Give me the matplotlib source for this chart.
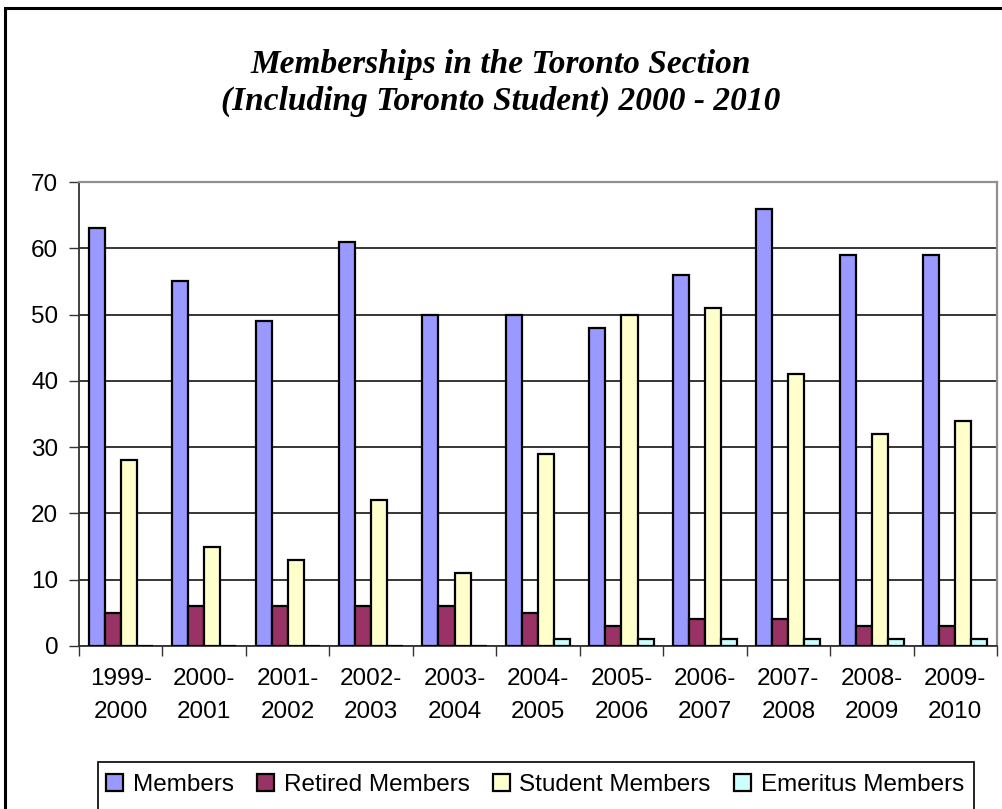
import numpy as np
import matplotlib
matplotlib.use('Agg')
import matplotlib.pyplot as plt
from matplotlib.patches import Rectangle

seasons = ['1999-\n2000', '2000-\n2001', '2001-\n2002', '2002-\n2003', '2003-\n2004',
           '2004-\n2005', '2005-\n2006', '2006-\n2007', '2007-\n2008', '2008-\n2009',
           '2009-\n2010']
members = [63, 55, 49, 61, 50, 50, 48, 56, 66, 59, 59]
retired = [5, 6, 6, 6, 6, 5, 3, 4, 4, 3, 3]
students = [28, 15, 13, 22, 11, 29, 50, 51, 41, 32, 34]
emeritus = [0, 0, 0, 0, 0, 1, 1, 1, 1, 1, 1]

series = [('Members', members, '#9999FF'),
          ('Retired Members', retired, '#993366'),
          ('Student Members', students, '#FFFFCC'),
          ('Emeritus Members', emeritus, '#CCFFFF')]

W, H = 1002, 809
fs = 17.5
fig = plt.figure(figsize=(W / 100, H / 100), dpi=100)

# chart border (right and bottom run off the page)
fig.patches.append(Rectangle((5 / W, -0.1), 1.1, 1 - 8 / H + 0.1, transform=fig.transFigure,
                             fill=False, edgecolor='black', linewidth=2.2, zorder=0))

ax = fig.add_axes([79 / W, (H - 646) / H, (997 - 79) / W, (646 - 182) / H])

x = np.arange(len(seasons))
w = 1 / 5.2
for j, (name, vals, col) in enumerate(series):
    ax.bar(x - 2 * w + (j + 0.5) * w, vals, width=w, color=col, edgecolor='black',
           linewidth=1.6, label=name, zorder=3)

ax.set_xlim(-0.5, len(seasons) - 0.5)
ax.set_ylim(0, 70)
ax.set_yticks(range(0, 71, 10))
ax.yaxis.grid(True, color='black', linewidth=1.1, zorder=0)
ax.set_axisbelow(True)

ax.set_xticks(np.arange(-0.5, len(seasons), 1))
ax.set_xticklabels([])
ax.set_xticks(x, minor=True)
ax.set_xticklabels(seasons, minor=True, fontsize=fs, family='Liberation Sans',
                   linespacing=1.65)
ax.tick_params(axis='x', which='major', length=7, width=1, color='#333333', direction='out')
ax.tick_params(axis='x', which='minor', length=0, pad=16)
ax.tick_params(axis='y', length=7, width=1, color='#333333', direction='out', pad=8)
for lab in ax.get_yticklabels():
    lab.set_fontsize(fs)
    lab.set_family('Liberation Sans')

for side in ('top', 'right'):
    ax.spines[side].set_color('#909090')
    ax.spines[side].set_linewidth(1.6)
for side in ('left', 'bottom'):
    ax.spines[side].set_color('#333333')
    ax.spines[side].set_linewidth(1.3)

fig.text(0.5, (H - 65) / H, 'Memberships in the Toronto Section', ha='center', va='center',
         fontsize=24, family='Liberation Serif', style='italic', weight='bold')
fig.text(0.5, (H - 101) / H, '(Including Toronto Student) 2000 - 2010', ha='center',
         va='center', fontsize=24, family='Liberation Serif', style='italic', weight='bold')

# legend box, cut by the bottom edge
fig.patches.append(Rectangle((98 / W, -0.05), (974 - 98) / W, (H - 762) / H + 0.05,
                             transform=fig.transFigure, fill=False, edgecolor='black',
                             linewidth=1.2))
fig.legend(loc='center', bbox_to_anchor=(535 / W, (H - 785) / H), ncol=4, frameon=False,
           prop={'family': 'Liberation Sans', 'size': fs}, handlelength=0.7,
           handleheight=0.7, handletextpad=0.4, columnspacing=0.95)

fig.savefig('out.png', dpi=100)
